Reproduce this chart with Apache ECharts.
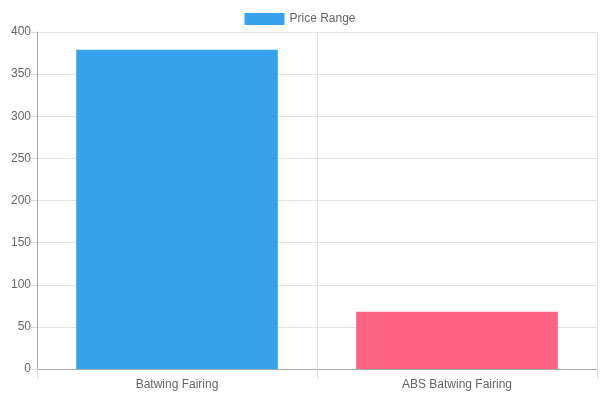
<!DOCTYPE html>
<html><head><meta charset="utf-8">
<script src="https://cdn.jsdelivr.net/npm/echarts@6/dist/echarts.min.js"></script>
</head><body style="margin:0">
<div id="c" style="width:600px;height:400px"></div>
<script>
const categories = ["Batwing Fairing", "ABS Batwing Fairing"];
const values = [379, 68];
const colors = ["#36a2eb", "#ff6384"];
const chart = echarts.init(document.getElementById('c'));
chart.setOption({
  animation: false,
  legend: {top: 8, left: 'center', itemWidth: 40, itemHeight: 12, itemGap: 6,
    textStyle: {color: '#666', fontSize: 12, fontFamily: 'Arial, Liberation Sans'},
    data: [{name: 'Price Range', icon: 'rect', itemStyle: {color: colors[0]}}]},
  grid: {left: 37, right: 3, top: 32, bottom: 31, containLabel: false},
  xAxis: {type: 'category', data: categories,
    axisLine: {lineStyle: {color: '#aaa'}},
    axisTick: {show: true, length: 10, lineStyle: {color: '#ddd'}},
    splitLine: {show: true, lineStyle: {color: '#e5e5e5'}},
    axisLabel: {color: '#666', fontSize: 12, fontFamily: 'Arial, Liberation Sans', margin: 10}},
  yAxis: {type: 'value', min: 0, max: 400, interval: 50,
    axisLine: {show: true, lineStyle: {color: '#aaa'}},
    axisTick: {show: true, length: 6, lineStyle: {color: '#ddd'}},
    splitLine: {lineStyle: {color: '#e5e5e5'}},
    axisLabel: {color: '#666', fontSize: 12, fontFamily: 'Arial, Liberation Sans', margin: 6}},
  series: [{name: 'Price Range', type: 'bar', barCategoryGap: '28%',
    data: values.map((v, i) => ({value: v, itemStyle: {color: colors[i]}}))}]
});
</script></body></html>
